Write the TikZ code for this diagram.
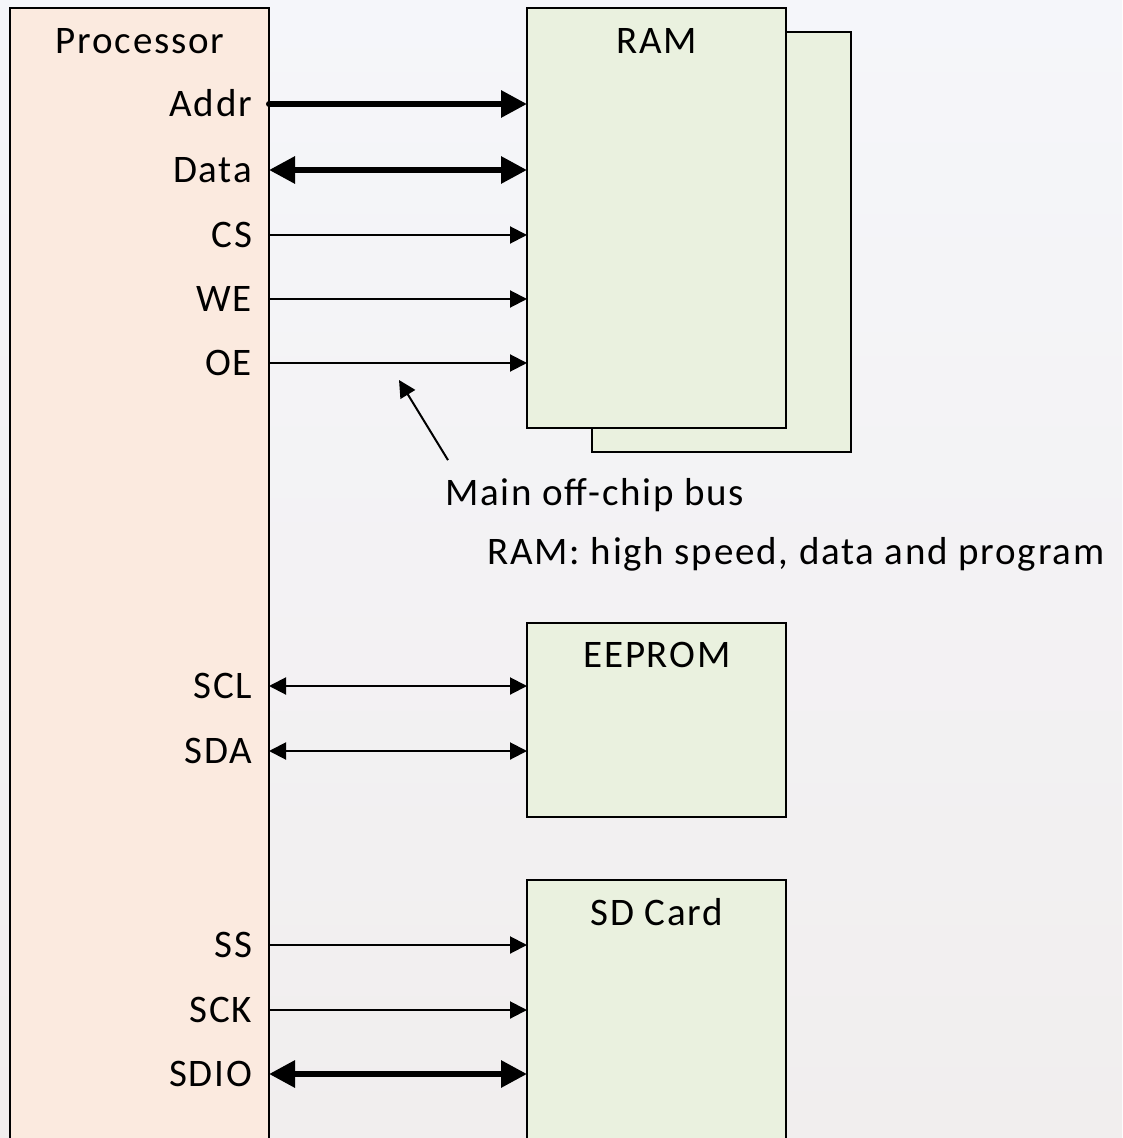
\documentclass[tikz,border=0pt]{standalone}
\usepackage{fontspec}
\setmainfont[LetterSpace=4.5]{Carlito}
\usetikzlibrary{arrows.meta}

\definecolor{bgtop}{HTML}{F5F6FA}
\definecolor{bgbot}{HTML}{F1EEEE}
\definecolor{procfill}{HTML}{FBEADF}
\definecolor{memfill}{HTML}{EAF1DF}

\tikzset{
  procbox/.style={draw=black, line width=1pt, fill=procfill, anchor=north west,
    minimum width=129.5pt, inner sep=0pt, outer sep=0pt},
  chipbox/.style={draw=black, line width=1pt, fill=memfill, anchor=north west,
    minimum width=129.5pt, inner sep=0pt, outer sep=0pt},
  sig/.style={anchor=east, inner xsep=8.5pt, inner ysep=0pt, outer sep=0pt,
    text height=12.5pt, text depth=0pt},
  title/.style={inner sep=0pt, text height=12.5pt, text depth=0pt},
  note/.style={anchor=west, inner sep=0pt, text height=12.5pt, text depth=0pt},
  wire/.style={line width=1pt, -{Triangle[length=8.5pt,width=8.5pt]}},
  wire2/.style={line width=1pt, {Triangle[length=8.5pt,width=8.5pt]}-{Triangle[length=8.5pt,width=8.5pt]}},
  bus/.style={line width=3pt, line cap=round, -{Triangle[length=13pt,width=13pt]}},
  bus2/.style={line width=3pt, {Triangle[length=13pt,width=13pt]}-{Triangle[length=13pt,width=13pt]}},
}

\begin{document}
\begin{tikzpicture}[x=0.5pt, y=-0.5pt, font=\fontsize{19.5pt}{23pt}\selectfont]

   \useasboundingbox (0,0) rectangle (1122,1138);
   \clip (0,0) rectangle (1122,1138);
   \shade[top color=bgtop, bottom color=bgbot] (0,0) rectangle (1122,1138);

   % boxes
   \node[procbox, minimum height=571pt] (proc) at (10,8) {};
   \node[chipbox, minimum height=210pt] (ramback) at (592,32) {};
   \node[chipbox, minimum height=210pt] (ram) at (527,8) {};
   \node[chipbox, minimum height=97pt] (eeprom) at (527,623) {};
   \node[chipbox, minimum height=135pt] (sdcard) at (527,880) {};

   \node[title] (proctitle) at (140,41) {Processor};
   \node[title] (ramtitle) at (657,41) {RAM};
   \node[title] (eetitle) at (657,655) {EEPROM};
   \node[title] (sdtitle) at (657,913) {SD Card};

   % processor pins
   \node[sig] (addr) at (269,104) {Addr};
   \node[sig] (data) at (269,170) {Data};
   \node[sig] (cs) at (269,235) {CS};
   \node[sig] (we) at (269,299) {WE};
   \node[sig] (oe) at (269,363) {OE};
   \node[sig] (scl) at (269,686) {SCL};
   \node[sig] (sda) at (269,751) {SDA};
   \node[sig] (ss) at (269,945) {SS};
   \node[sig] (sck) at (269,1010) {SCK};
   \node[sig] (sdio) at (269,1074) {SDIO};

   % connections
   \draw[bus] (addr.east) -- (addr.east -| ram.west);
   \draw[bus2] (data.east) -- (data.east -| ram.west);
   \draw[wire] (cs.east) -- (cs.east -| ram.west);
   \draw[wire] (we.east) -- (we.east -| ram.west);
   \draw[wire] (oe.east) -- (oe.east -| ram.west);
   \draw[wire2] (scl.east) -- (scl.east -| eeprom.west);
   \draw[wire2] (sda.east) -- (sda.east -| eeprom.west);
   \draw[wire] (ss.east) -- (ss.east -| sdcard.west);
   \draw[wire] (sck.east) -- (sck.east -| sdcard.west);
   \draw[bus2] (sdio.east) -- (sdio.east -| sdcard.west);

   % notes
   \node[note] (busnote) at (445,493) {Main off-chip bus};
   \node[note] (ramnote) at (487,552) {RAM: high speed, data and program};
   \coordinate (bustip) at (399,380);
   \draw[wire] ([shift={(3,-20)}]busnote.north west) -- (bustip);

\end{tikzpicture}
\end{document}
